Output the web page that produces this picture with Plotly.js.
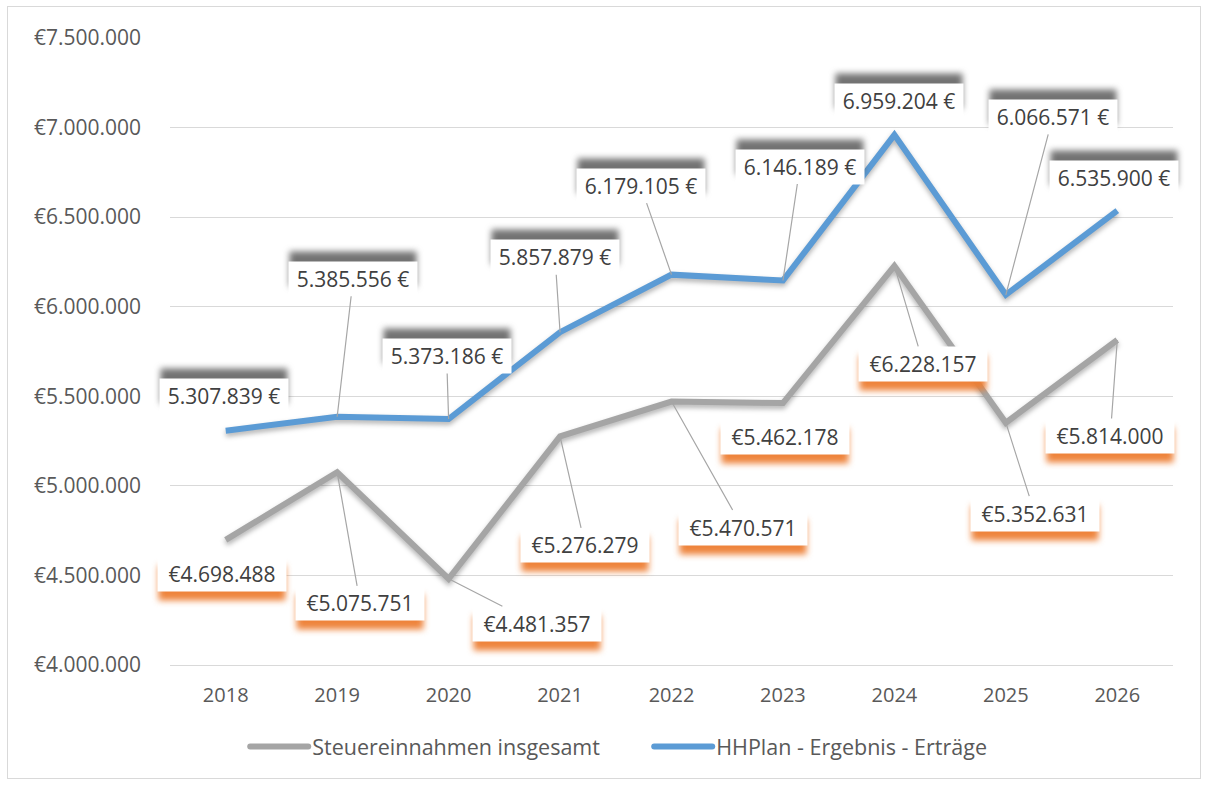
<!DOCTYPE html>
<html>
<head>
<meta charset="utf-8">
<script src="https://cdn.plot.ly/plotly-3.0.1.min.js"></script>
<style>
  html, body { margin: 0; padding: 0; background: #fff; }
  #frame { position: absolute; left: 7px; top: 6px; width: 1194px; height: 773px; border: 1px solid #d9d9d9; box-sizing: border-box; }
  #chart { position: absolute; left: 0; top: 0; width: 1207px; height: 785px; }
</style>
</head>
<body>
<div id="frame"></div>
<div id="chart"></div>
<script>
// ---- data ----
const years = ['2018', '2019', '2020', '2021', '2022', '2023', '2024', '2025', '2026'];
const steuer = [4698488, 5075751, 4481357, 5276279, 5470571, 5462178, 6228157, 5352631, 5814000];
const hhplan = [5307839, 5385556, 5373186, 5857879, 6179105, 6146189, 6959204, 6066571, 6535900];
const seriesNames = ['Steuereinnahmen insgesamt', 'HHPlan - Ergebnis - Erträge'];

// ---- label placement (pixel offsets from the point to the label centre) ----
const hhOffsets = [[-2, -35], [16, -138], [-2, -63], [-5, -75], [-31, -89], [17, -114], [5, -34], [47, -178], [-3, -33]];
const stOffsets = [[-4, 34], [23, 131], [88, 45], [25, 109], [71, 126], [2, 34], [29, 98], [29, 91], [-7, 96]];

const FONT = '"Open Sans", "Noto Sans", sans-serif';
const TXT = '#404040';

function fmt(v) { return String(v).replace(/\B(?=(\d{3})+(?!\d))/g, '.'); }

const traces = [
  { x: years, y: steuer, type: 'scatter', mode: 'lines', name: seriesNames[0],
    line: { color: '#a5a5a5', width: 6 } },
  { x: years, y: hhplan, type: 'scatter', mode: 'lines', name: seriesNames[1],
    line: { color: '#5b9bd5', width: 6 } }
];

const annotations = [];
const shadowIdx = [];
function addLabel(xi, y, text, off, shadowColor, shadowDy) {
  const lead = Math.abs(off[1]) > 40;
  shadowIdx.push(annotations.length);
  annotations.push({
    x: xi, y: y, xref: 'x', yref: 'y', showarrow: false,
    xshift: off[0], yshift: -off[1] + shadowDy,
    xanchor: 'center', yanchor: 'middle',
    text: '&nbsp;', font: { family: FONT, size: 21, color: 'rgba(0,0,0,0)' },
    bgcolor: shadowColor, width: 120, height: 28, borderpad: 3
  });
  annotations.push({
    x: xi, y: y, xref: 'x', yref: 'y', showarrow: true,
    ax: off[0], ay: off[1], arrowhead: 0, arrowwidth: 1.2,
    arrowcolor: lead ? '#a6a6a6' : 'rgba(0,0,0,0)',
    text: text, font: { family: FONT, size: 21, color: TXT },
    bgcolor: '#ffffff', width: 122, height: 28, borderpad: 3
  });
}
for (let i = 0; i < years.length; i++) {
  addLabel(i, hhplan[i], fmt(hhplan[i]) + ' €', hhOffsets[i], 'rgba(80,80,80,0.8)', 10);
}
for (let i = 0; i < years.length; i++) {
  addLabel(i, steuer[i], '€' + fmt(steuer[i]), stOffsets[i], 'rgba(237,125,49,0.95)', -9);
}

const layout = {
  width: 1207, height: 785,
  margin: { l: 170, r: 34, t: 38, b: 120 },
  paper_bgcolor: 'rgba(0,0,0,0)', plot_bgcolor: 'rgba(0,0,0,0)',
  separators: ',.',
  font: { family: FONT, color: '#595959', size: 20 },
  showlegend: true,
  legend: { orientation: 'h', x: 0.072, xanchor: 'left', y: -0.13, yanchor: 'middle',
    font: { family: FONT, size: 21.5, color: '#595959' }, itemwidth: 60,
    entrywidth: 329, entrywidthmode: 'pixels', tracegroupgap: 0 },
  xaxis: { type: 'category', range: [-0.5, 8.5], showgrid: false, showline: true,
    linecolor: '#d9d9d9', linewidth: 1, ticks: '', tickfont: { family: FONT, size: 20, color: '#595959' },
    ticklabelstandoff: 12 },
  yaxis: { range: [4000000, 7500000], dtick: 500000, tick0: 4000000, tickprefix: '€', tickformat: ',d',
    showgrid: true, gridcolor: '#d9d9d9', gridwidth: 1, zeroline: false, showline: false, ticks: '',
    tickfont: { family: FONT, size: 21, color: '#595959' }, ticklabelstandoff: 28 },
  annotations: annotations
};

Plotly.newPlot('chart', traces, layout, { displayModeBar: false, staticPlot: true }).then(function (gd) {
  gd.querySelectorAll('.scatterlayer .js-line').forEach(function (p) {
    p.style.filter = 'drop-shadow(0px 3px 2.5px rgba(0,0,0,0.3))';
  });
  shadowIdx.forEach(function (i) {
    const g = gd.querySelector('.annotation[data-index="' + i + '"]');
    if (g) g.style.filter = 'blur(3px)';
  });
  gd.querySelectorAll('.legend .legendlines path').forEach(function (p) {
    p.setAttribute('d', 'M8,0h58');
    p.style.strokeLinecap = 'round';
  });
});
</script>
</body>
</html>
